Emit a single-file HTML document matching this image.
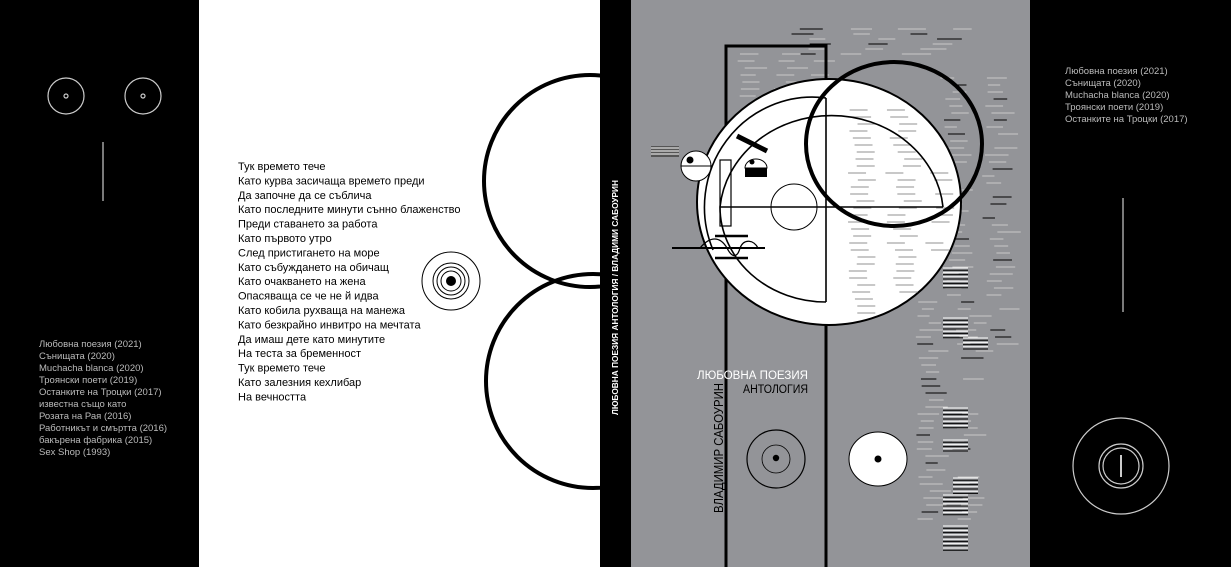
<!DOCTYPE html>
<html><head><meta charset="utf-8"><style>
html,body{margin:0;padding:0;width:1231px;height:567px;overflow:hidden;background:#000}
svg{display:block}
text{font-family:"Liberation Sans","DejaVu Sans",sans-serif}
</style></head><body>
<svg id="s" width="1231" height="567" viewBox="0 0 1231 567" xmlns="http://www.w3.org/2000/svg">
<defs><clipPath id="wc"><rect x="199" y="0" width="401" height="567"/></clipPath></defs>
<rect x="0" y="0" width="1231" height="567" fill="#000"/>
<rect x="199" y="0" width="401" height="567" fill="#fff"/>
<rect x="631" y="0" width="399" height="567" fill="#939498"/>

<!-- left panel -->
<g stroke="#ccc" fill="none" stroke-width="1.2">
<circle cx="66" cy="96" r="18"/><circle cx="66" cy="96" r="2"/>
<circle cx="143" cy="96" r="18"/><circle cx="143" cy="96" r="2"/>
<line x1="103" y1="142" x2="103" y2="201"/>
</g>
<g fill="#bbb" font-size="9.5">
<text x="39" y="347">Любовна поезия (2021)</text>
<text x="39" y="359">Сънищата (2020)</text>
<text x="39" y="371">Muchacha blanca (2020)</text>
<text x="39" y="383">Троянски поети (2019)</text>
<text x="39" y="395">Останките на Троцки (2017)</text>
<text x="39" y="407">известна също като</text>
<text x="39" y="419">Розата на Рая (2016)</text>
<text x="39" y="431">Работникът и смъртта (2016)</text>
<text x="39" y="443">бакърена фабрика (2015)</text>
<text x="39" y="455">Sex Shop (1993)</text>
</g>

<!-- white panel -->
<g fill="#000" font-size="11">
<text x="238" y="170">Тук времето тече</text>
<text x="238" y="184.4">Като курва засичаща времето преди</text>
<text x="238" y="198.8">Да започне да се съблича</text>
<text x="238" y="213.2">Като последните минути сънно блаженство</text>
<text x="238" y="227.6">Преди ставането за работа</text>
<text x="238" y="242">Като първото утро</text>
<text x="238" y="256.4">След пристигането на море</text>
<text x="238" y="270.8">Като събуждането на обичащ</text>
<text x="238" y="285.2">Като очакването на жена</text>
<text x="238" y="299.6">Опасяваща се че не й идва</text>
<text x="238" y="314">Като кобила рухваща на манежа</text>
<text x="238" y="328.4">Като безкрайно инвитро на мечтата</text>
<text x="238" y="342.8">Да имаш дете като минутите</text>
<text x="238" y="357.2">На теста за бременност</text>
<text x="238" y="371.6">Тук времето тече</text>
<text x="238" y="386">Като залезния кехлибар</text>
<text x="238" y="400.4">На вечността</text>
</g>
<g fill="none" stroke="#000">
<circle cx="451" cy="281" r="29" stroke-width="1"/>
<circle cx="451" cy="281" r="18" stroke-width="1"/>
<circle cx="451" cy="281" r="14" stroke-width="1"/>
<circle cx="451" cy="281" r="10" stroke-width="1"/>
</g>
<circle cx="451" cy="281" r="5" fill="#000"/>
<g fill="none" stroke="#000" stroke-width="4" clip-path="url(#wc)">
<circle cx="590" cy="181" r="106"/>
<circle cx="593" cy="381" r="107"/>
</g>
<rect x="600" y="0" width="31" height="567" fill="#000"/>
<text transform="translate(618,415) rotate(-90)" fill="#fff" font-size="8.3" font-weight="bold">ЛЮБОВНА ПОЕЗИЯ АНТОЛОГИЯ / ВЛАДИМИ САБОУРИН</text>

<!-- cover -->
<g id="stripes"></g>
<g stroke="#000" stroke-width="3" fill="none">
<polyline points="726,567 726,46 826,46 826,567"/>
</g>
<ellipse cx="829" cy="202" rx="132" ry="123" fill="#fff" stroke="#000" stroke-width="2"/>
<g id="stripes2"></g>
<g fill="none" stroke="#000" stroke-width="1.6">
<path d="M826,98 A108,110 0 0 0 713,250"/>
<path d="M943,207 A112,101 0 0 0 720,207 A106,95 0 0 0 826,302"/>
<line x1="720" y1="207" x2="943" y2="207"/>
<line x1="826" y1="98" x2="826" y2="302"/>
<circle cx="794" cy="207" r="23" stroke-width="1"/>
<rect x="720" y="160" width="11" height="66" stroke-width="1.2"/>
</g>
<ellipse cx="894" cy="144" rx="88" ry="82" fill="none" stroke="#000" stroke-width="4"/>
<line x1="737" y1="136" x2="767" y2="151" stroke="#000" stroke-width="5"/>
<!-- eyes -->
<rect x="651" y="146" width="28" height="11" fill="#555"/>
<g stroke="#fff" stroke-width="1"><line x1="651" y1="148" x2="679" y2="148"/><line x1="651" y1="151" x2="679" y2="151"/><line x1="651" y1="154" x2="679" y2="154"/></g>
<circle cx="696" cy="166" r="15" fill="#fff" stroke="#000" stroke-width="1"/>
<line x1="681" y1="166" x2="711" y2="166" stroke="#000"/>
<circle cx="690" cy="160" r="3.5" fill="#000"/>
<path d="M745,168 A11,9 0 0 1 767,168 Z" fill="#fff" stroke="#000"/>
<rect x="745" y="168" width="22" height="9" fill="#000"/>
<circle cx="752" cy="162" r="2.5" fill="#000"/>
<!-- mouth -->
<g stroke="#000" fill="none" stroke-width="2">
<line x1="672" y1="248" x2="765" y2="248"/>
<line x1="715" y1="236" x2="748" y2="236" stroke-width="2.5"/>
<line x1="715" y1="258" x2="748" y2="258" stroke-width="2.5"/>
<path d="M700,248 C710,236 720,236 727,248 C733,260 738,256 740,248 C744,238 754,240 758,248" stroke-width="1.3"/>
</g>
<text x="697" y="379" font-size="11.5" fill="#fff" textLength="111" lengthAdjust="spacingAndGlyphs">ЛЮБОВНА ПОЕЗИЯ</text>
<text x="743" y="393" font-size="11.5" fill="#000" textLength="65" lengthAdjust="spacingAndGlyphs">АНТОЛОГИЯ</text>
<text transform="translate(723,513) rotate(-90)" font-size="13" fill="#000" textLength="130" lengthAdjust="spacingAndGlyphs">ВЛАДИМИР САБОУРИН</text>
<circle cx="776" cy="459" r="29" fill="none" stroke="#000" stroke-width="1.2"/>
<circle cx="776" cy="459" r="14" fill="none" stroke="#000" stroke-width="0.8"/>
<circle cx="776" cy="458" r="3.2" fill="#000"/>
<ellipse cx="878" cy="459" rx="29" ry="27" fill="#fff" stroke="#000"/>
<circle cx="878" cy="459" r="3.5" fill="#000"/>

<!-- right panel -->
<g fill="#bbb" font-size="9.5">
<text x="1065" y="74">Любовна поезия (2021)</text>
<text x="1065" y="86">Сънищата (2020)</text>
<text x="1065" y="98">Muchacha blanca (2020)</text>
<text x="1065" y="110">Троянски поети (2019)</text>
<text x="1065" y="122">Останките на Троцки (2017)</text>
</g>
<g stroke="#ccc" fill="none" stroke-width="1.2">
<line x1="1123" y1="198" x2="1123" y2="312"/>
<circle cx="1121" cy="466" r="48"/>
<circle cx="1121" cy="466" r="22"/>
<circle cx="1121" cy="466" r="18"/>
<line x1="1121" y1="455" x2="1121" y2="477" stroke-width="2"/>
</g>
</svg>
<script>
(function(){
var seed=7;function r(){seed=(seed*9301+49297)%233280;return seed/233280;}
var g=document.getElementById('stripes'),g2=document.getElementById('stripes2'),ns='http://www.w3.org/2000/svg';
function ln(par,x1,x2,y,c,w){var l=document.createElementNS(ns,'line');l.setAttribute('x1',x1);l.setAttribute('x2',x2);l.setAttribute('y1',y);l.setAttribute('y2',y);l.setAttribute('stroke',c);l.setAttribute('stroke-width',w||1);par.appendChild(l);}
for(var y=29;y<58;y+=5){for(var x=790+r()*20;x<955;x+=45+r()*25){var w=14+r()*16;ln(g,x,x+w,y,r()<0.3?'#000':'#c8c8c8',1);}}
for(var y=54;y<100;y+=7){for(var x=735+r()*10;x<815;x+=32+r()*12){ln(g,x,x+15+r()*8,y,'#c8c8c8',1);}}
for(var y=78;y<520;y+=7){var xs=(y>300?915:940)+r()*15;for(var x=xs;x<1000;x+=34+r()*18){if(y>360&&x>965)continue;var w=12+r()*12;ln(g,x,x+w,y,r()<0.2?'#000':'#c8c8c8',1);}}
[[943,268,10],[943,318,10],[943,408,10],[943,440,6],[943,495,10],[943,526,12],[953,478,8],[963,338,6]].forEach(function(a){for(var i=0;i<a[2];i++)ln(g,a[0],a[0]+25,a[1]+i*2.2,i%2?'#000':'#fff',1);});
for(var y=110;y<320;y+=7){for(var x=848+r()*10;x<960;x+=36+r()*14){var dy=(y-202)/123,lim=829+132*Math.sqrt(Math.max(0,1-dy*dy));if(x+18>lim)continue;ln(g2,x,x+18,y,'#a8a8a8',1.2);}}
})();
</script>
</body></html>
